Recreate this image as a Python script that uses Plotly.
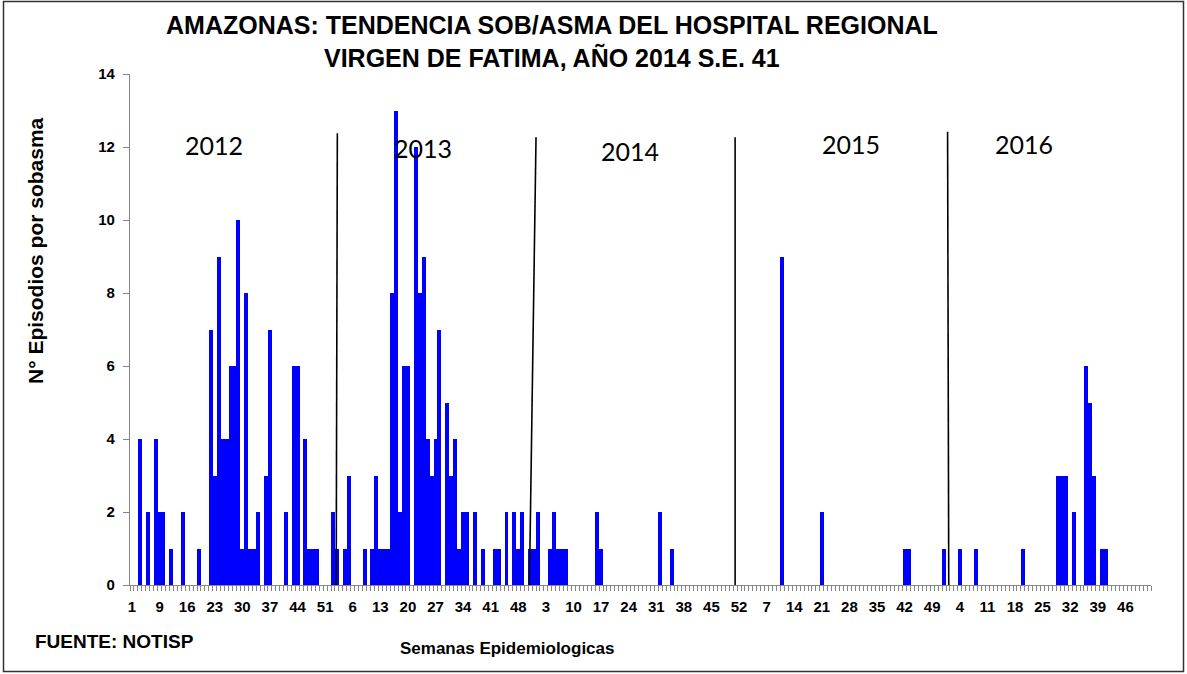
import plotly.graph_objects as go

# ---------------- data ----------------
years = ["2012", "2013", "2014", "2015", "2016"]

cases_2012 = [0, 0, 4, 0, 2, 0, 4, 2, 2, 0,
              1, 0, 0, 2, 0, 0, 0, 1, 0, 0,
              7, 3, 9, 4, 4, 6, 6, 10, 1, 8,
              1, 1, 2, 0, 3, 7, 0, 0, 0, 2,
              0, 6, 6, 0, 4, 1, 1, 1, 0, 0,
              0]
cases_2013 = [2, 1, 0, 1, 3, 0, 0, 0, 1, 0,
              1, 3, 1, 1, 1, 8, 13, 2, 6, 6,
              0, 12, 8, 9, 4, 3, 4, 7, 0, 5,
              3, 4, 1, 2, 2, 0, 2, 0, 1, 0,
              0, 1, 1, 0, 2, 0, 2, 1, 2, 0,
              1, 1]
cases_2014 = [2, 0, 0, 1, 2, 1, 1, 1, 0, 0,
              0, 0, 0, 0, 0, 2, 1, 0, 0, 0,
              0, 0, 0, 0, 0, 0, 0, 0, 0, 0,
              0, 2, 0, 0, 1, 0, 0, 0, 0, 0,
              0, 0, 0, 0, 0, 0, 0, 0, 0, 0,
              0, 0]
cases_2015 = [0, 0, 0, 0, 0, 0, 0, 0, 0, 0,
              9, 0, 0, 0, 0, 0, 0, 0, 0, 0,
              2, 0, 0, 0, 0, 0, 0, 0, 0, 0,
              0, 0, 0, 0, 0, 0, 0, 0, 0, 0,
              0, 1, 1, 0, 0, 0, 0, 0, 0, 0,
              0, 1]
cases_2016 = [0, 0, 0, 1, 0, 0, 0, 1, 0, 0,
              0, 0, 0, 0, 0, 0, 0, 0, 0, 1,
              0, 0, 0, 0, 0, 0, 0, 0, 3, 3,
              3, 0, 2, 0, 0, 6, 5, 3, 0, 1,
              1, None, None, None, None, None, None, None, None, None,
              None, None]

tick_labels = ["1", "9", "16", "23", "30", "37", "44", "51",
               "6", "13", "20", "27", "34", "41", "48",
               "3", "10", "17", "24", "31", "38", "45", "52",
               "7", "14", "21", "28", "35", "42", "49",
               "4", "11", "18", "25", "32", "39", "46"]
tick_step = 7

title_lines = ["AMAZONAS: TENDENCIA SOB/ASMA DEL HOSPITAL REGIONAL",
               "VIRGEN DE FATIMA, AÑO 2014 S.E. 41"]
y_title = "N° Episodios por sobasma"
x_title = "Semanas Epidemiologicas"
source_text = "FUENTE: NOTISP"

# year label placement (data units) and hand-drawn divider skew
year_label_x = [20.9, 73.9, 126.4, 182.4, 226.3]
year_label_y = [12.05, 11.97, 11.9, 12.08, 12.08]
divider_skew = [(1.6, 1.3), (0.0, -1.7), (-1.5, -1.5), (0.4, 0.7)]
divider_top = [12.38, 12.27, 12.27, 12.42]
divider_bottom = -0.15

# ---------------- build ----------------
series = [cases_2012, cases_2013, cases_2014, cases_2015, cases_2016]
values = [v for s in series for v in s]
x_idx = list(range(len(values)))

W, H = 1187, 674
ML, MR, MT, MB = 130, 36, 74, 89
PW, PH = W - ML - MR, H - MT - MB


def px_x(px):
    return (px - ML) / PW


def px_y(py):
    return (H - MB - py) / PH


fig = go.Figure()
fig.add_trace(go.Bar(
    x=x_idx, y=values,
    marker=dict(color="#0000FF", line=dict(width=0)),
    width=1.0,
    hoverinfo="x+y",
))

AX = "Liberation Sans, Arial, sans-serif"
GRAY = "#868686"

# year boundaries
bounds = []
acc = 0
for s in series[:-1]:
    acc += len(s)
    bounds.append(acc - 0.5)

shapes = []
for b, (dt, db), yt in zip(bounds, divider_skew, divider_top):
    shapes.append(dict(type="line", xref="x", yref="y",
                       x0=b + db, y0=divider_bottom, x1=b + dt, y1=yt,
                       line=dict(color="black", width=1.6)))
# chart-area border
shapes.append(dict(type="rect", xref="paper", yref="paper",
                   x0=px_x(3.5), x1=px_x(1183.5), y0=px_y(671.5), y1=px_y(1.5),
                   line=dict(color="#333333", width=1.5), fillcolor="rgba(0,0,0,0)",
                   layer="below"))

annotations = []
for yr, xx, yy in zip(years, year_label_x, year_label_y):
    annotations.append(dict(text=yr, x=xx, y=yy, xref="x", yref="y",
                            showarrow=False, xanchor="center", yanchor="middle",
                            font=dict(family="Lato, Open Sans, sans-serif", size=25, color="black")))

annotations.append(dict(text="<b>%s</b>" % title_lines[0], x=px_x(551.5), y=px_y(25),
                        xref="paper", yref="paper", showarrow=False,
                        xanchor="center", yanchor="middle",
                        font=dict(family=AX, size=25, color="black")))
annotations.append(dict(text="<b>%s</b>" % title_lines[1], x=px_x(551.5), y=px_y(57),
                        xref="paper", yref="paper", showarrow=False,
                        xanchor="center", yanchor="middle",
                        font=dict(family=AX, size=25, color="black")))
annotations.append(dict(text="<b>%s</b>" % y_title, x=px_x(35), y=px_y(251),
                        xref="paper", yref="paper", showarrow=False, textangle=-90,
                        xanchor="center", yanchor="middle",
                        font=dict(family=AX, size=21, color="black")))
annotations.append(dict(text="<b>%s</b>" % x_title, x=px_x(507), y=px_y(648),
                        xref="paper", yref="paper", showarrow=False,
                        xanchor="center", yanchor="middle",
                        font=dict(family=AX, size=17, color="black")))
annotations.append(dict(text="<b>%s</b>" % source_text, x=px_x(33), y=px_y(641),
                        xref="paper", yref="paper", showarrow=False,
                        xanchor="left", yanchor="middle",
                        font=dict(family=AX, size=19, color="black")))

tickvals = [i * tick_step for i in range(len(tick_labels))]

fig.update_layout(
    width=W, height=H,
    margin=dict(l=ML, r=MR, t=MT, b=MB, pad=0),
    paper_bgcolor="white", plot_bgcolor="white",
    bargap=0, showlegend=False,
    shapes=shapes, annotations=annotations,
    xaxis=dict(
        range=[-0.5, len(values) - 0.5],
        tickmode="array", tickvals=tickvals, ticktext=tick_labels,
        ticks="outside", ticklen=8, tickcolor="rgba(0,0,0,0)",
        tickfont=dict(family=AX, size=15, color="black", weight="bold"),
        tickangle=0,
        showline=True, linecolor=GRAY, linewidth=1.3,
        showgrid=False, zeroline=False,
        minor=dict(tickmode="array",
                   tickvals=[i - 0.5 for i in range(len(values) + 1)],
                   ticks="outside", ticklen=5, tickcolor=GRAY, tickwidth=1,
                   showgrid=False),
    ),
    yaxis=dict(
        range=[0, 14], tickmode="array", tickvals=list(range(0, 15, 2)),
        ticks="outside", ticklen=6, tickcolor=GRAY, tickwidth=1,
        tickfont=dict(family=AX, size=15, color="black", weight="bold"),
        ticklabelstandoff=5,
        showline=True, linecolor=GRAY, linewidth=1.3,
        showgrid=False, zeroline=False,
    ),
)

fig.write_html("out.html",
               config={"displayModeBar": False},
               post_script="document.body.style.margin='0';"
                           "document.body.style.overflow='hidden';")
